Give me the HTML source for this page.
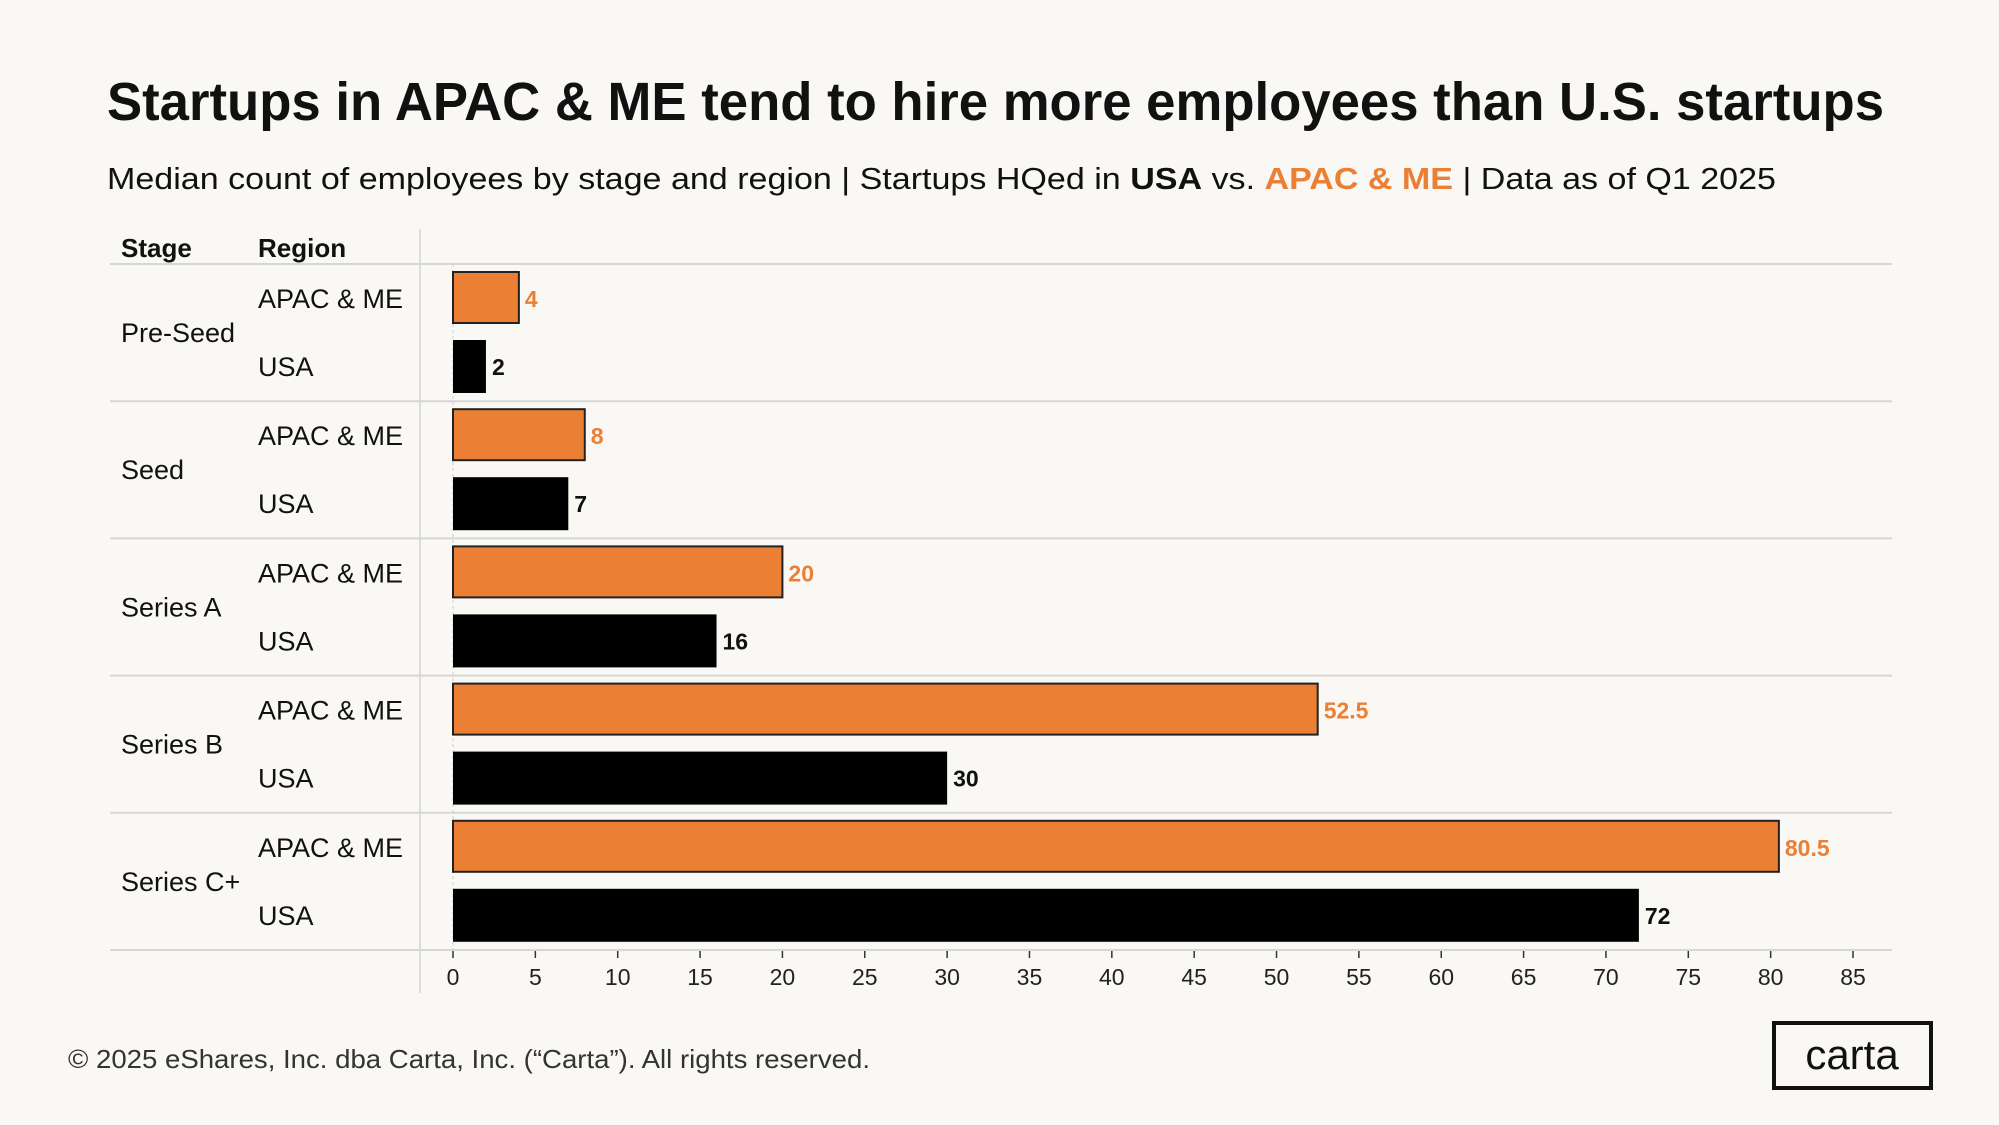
<!DOCTYPE html>
<html><head><meta charset="utf-8"><style>
html,body{margin:0;padding:0;background:#faf8f4;}
svg{display:block;font-family:"Liberation Sans",sans-serif;}
</style></head><body>
<svg id="chart" width="1999" height="1125" viewBox="0 0 1999 1125" xmlns="http://www.w3.org/2000/svg">
<rect width="1999" height="1125" fill="#faf8f4"/>
<text x="107" y="120" font-size="54" font-weight="bold" fill="#111" textLength="1777" lengthAdjust="spacingAndGlyphs">Startups in APAC &amp; ME tend to hire more employees than U.S. startups</text>
<text x="107" y="189" font-size="31" fill="#111" textLength="1669" lengthAdjust="spacingAndGlyphs">Median count of employees by stage and region | Startups HQed in <tspan font-weight="bold">USA</tspan> vs. <tspan font-weight="bold" fill="#eb7f33">APAC &amp; ME</tspan> | Data as of Q1 2025</text>
<text x="121" y="257" font-size="26" font-weight="bold" fill="#111">Stage</text>
<text x="258" y="257" font-size="26" font-weight="bold" fill="#111">Region</text>
<line x1="420" y1="229" x2="420" y2="993" stroke="#ddd" stroke-width="2"/>
<g id="rows"></g>
<g id="axis"></g>
<text x="68" y="1068" font-size="26" fill="#333" textLength="802" lengthAdjust="spacingAndGlyphs">© 2025 eShares, Inc. dba Carta, Inc. (“Carta”). All rights reserved.</text>
<rect x="1774" y="1023" width="157" height="65" fill="none" stroke="#111" stroke-width="4"/>
<text x="1852" y="1069" font-size="42" text-anchor="middle" fill="#111">carta</text>
</svg>
<script>
const stages = ["Pre-Seed","Seed","Series A","Series B","Series C+"];
const apacValues = [4, 8, 20, 52.5, 80.5];
const usaValues = [2, 7, 16, 30, 72];
const tickValues = [0,5,10,15,20,25,30,35,40,45,50,55,60,65,70,75,80,85];

const NS = "http://www.w3.org/2000/svg";
const x0 = 453, xPerUnit = 1400/85;
const xs = v => x0 + v * xPerUnit;
const top0 = 264, groupH = 137.2;
const rows = document.getElementById('rows');
const axis = document.getElementById('axis');
function mk(tag, attrs, parent, text){
  const e = document.createElementNS(NS, tag);
  for (const k in attrs) e.setAttribute(k, attrs[k]);
  if (text !== undefined) e.textContent = text;
  parent.appendChild(e);
  return e;
}
// separators
for (let i = 0; i <= stages.length; i++) {
  const y = top0 + i * groupH;
  const l = mk('line', {x1:110, x2:1892, y1:y, y2:y, stroke:'#d6d6d6', 'stroke-width':2}, rows);
  
  
}
// zero line dashed
const zl = mk('line', {x1:x0, x2:x0, y1:top0, y2:top0+stages.length*groupH, stroke:'#ccc', 'stroke-width':1, 'stroke-dasharray':'3,3'}, rows);



stages.forEach((s, i) => {
  const gy = top0 + i * groupH;
  const st = mk('text', {x:121, y:gy+78, 'font-size':27, fill:'#111'}, rows, s);
  
  
  const r1 = mk('text', {x:258, y:gy+44, 'font-size':27, fill:'#111'}, rows, 'APAC & ME');
  
  
  const r2 = mk('text', {x:258, y:gy+112, 'font-size':27, fill:'#111'}, rows, 'USA');
  
  
  const a = apacValues[i], u = usaValues[i];
  const b1 = mk('rect', {x:x0, y:gy+8, width:xs(a)-x0, height:51, fill:'#eb8034', stroke:'#222', 'stroke-width':2}, rows);
  
  
  const v1 = mk('text', {x:xs(a)+6, y:gy+43, 'font-size':23, 'font-weight':'bold', fill:'#eb7f33'}, rows, String(a));
  
  
  const b2 = mk('rect', {x:x0, y:gy+76, width:xs(u)-x0, height:53, fill:'#000'}, rows);
  
  
  const v2 = mk('text', {x:xs(u)+6, y:gy+111, 'font-size':23, 'font-weight':'bold', fill:'#111'}, rows, String(u));
  
  
});
tickValues.forEach(t => {
  const tk = mk('line', {x1:xs(t), x2:xs(t), y1:951, y2:958, stroke:'#333', 'stroke-width':1.5}, axis);
  
  
  const lb = mk('text', {x:xs(t), y:985, 'font-size':23, 'text-anchor':'middle', fill:'#222'}, axis, String(t));
  
  
});
</script>
</body></html>
